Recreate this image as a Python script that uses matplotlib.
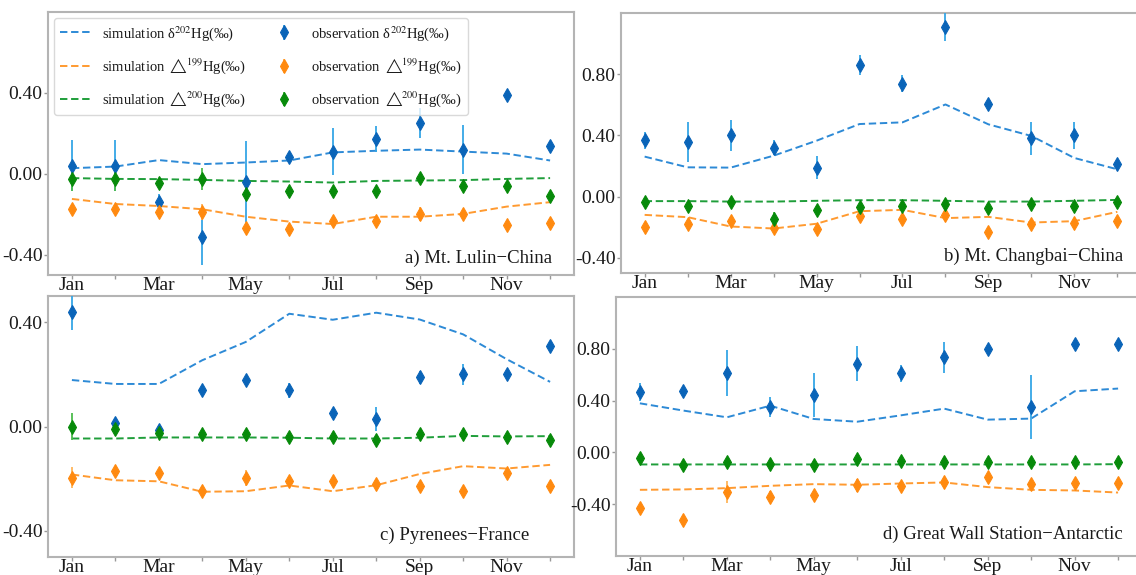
import matplotlib
matplotlib.use("Agg")
import matplotlib.pyplot as plt
import numpy as np

plt.rcParams['font.family'] = ['Liberation Serif', 'DejaVu Serif']
plt.rcParams['mathtext.fontset'] = 'stix'

months = ['Jan', 'Feb', 'Mar', 'Apr', 'May', 'Jun', 'Jul', 'Aug', 'Sep', 'Oct', 'Nov', 'Dec']
month_labels = ['Jan', '', 'Mar', '', 'May', '', 'Jul', '', 'Sep', '', 'Nov', '']

panel_titles = ['a) Mt. Lulin\u2212China', 'b) Mt. Changbai\u2212China',
                'c) Pyrenees\u2212France', 'd) Great Wall Station\u2212Antarctic']

# ---- a) Mt. Lulin ----
a_sim_d202 = [0.028, 0.036, 0.068, 0.048, 0.056, 0.066, 0.106, 0.114, 0.120, 0.110, 0.100, 0.066]
a_sim_D199 = [-0.124, -0.149, -0.159, -0.175, -0.212, -0.236, -0.248, -0.212, -0.212, -0.198, -0.162, -0.140]
a_sim_D200 = [-0.021, -0.025, -0.026, -0.030, -0.035, -0.038, -0.043, -0.035, -0.033, -0.031, -0.025, -0.021]
a_obs_d202 = [0.041, 0.041, -0.139, -0.310, -0.040, 0.083, 0.110, 0.172, 0.250, 0.120, 0.390, 0.140]
a_err_d202 = [0.125, 0.125, 0.040, 0.140, 0.200, 0.025, 0.115, 0.065, 0.075, 0.120, 0.010, 0.020]
a_obs_D199 = [-0.172, -0.172, -0.187, -0.190, -0.266, -0.274, -0.231, -0.231, -0.197, -0.198, -0.253, -0.241]
a_err_D199 = [0.015, 0.015, 0.015, 0.040, 0.030, 0.025, 0.020, 0.020, 0.035, 0.020, 0.010, 0.020]
a_obs_D200 = [-0.025, -0.025, -0.043, -0.025, -0.100, -0.084, -0.083, -0.083, -0.023, -0.061, -0.061, -0.109]
a_err_D200 = [0.060, 0.060, 0.010, 0.055, 0.030, 0.010, 0.010, 0.010, 0.020, 0.020, 0.010, 0.020]

# ---- b) Mt. Changbai ----
b_sim_d202 = [0.261, 0.191, 0.189, 0.267, 0.365, 0.474, 0.485, 0.602, 0.472, 0.396, 0.252, 0.178]
b_sim_D199 = [-0.120, -0.135, -0.196, -0.209, -0.178, -0.096, -0.087, -0.141, -0.133, -0.170, -0.161, -0.100]
b_sim_D200 = [-0.030, -0.030, -0.033, -0.033, -0.028, -0.024, -0.024, -0.028, -0.033, -0.033, -0.028, -0.022]
b_obs_d202 = [0.367, 0.359, 0.400, 0.320, 0.189, 0.861, 0.737, 1.109, 0.607, 0.380, 0.400, 0.210]
b_err_d202 = [0.057, 0.130, 0.100, 0.050, 0.076, 0.065, 0.055, 0.090, 0.020, 0.110, 0.090, 0.020]
b_obs_D199 = [-0.198, -0.180, -0.161, -0.209, -0.211, -0.130, -0.146, -0.124, -0.233, -0.180, -0.176, -0.163]
b_err_D199 = [0.020, 0.020, 0.020, 0.030, 0.020, 0.020, 0.020, 0.020, 0.020, 0.020, 0.020, 0.020]
b_obs_D200 = [-0.035, -0.065, -0.035, -0.148, -0.087, -0.067, -0.059, -0.046, -0.078, -0.048, -0.065, -0.033]
b_err_D200 = [0.020, 0.020, 0.020, 0.050, 0.020, 0.020, 0.020, 0.020, 0.020, 0.020, 0.020, 0.020]

# ---- c) Pyrenees ----
c_sim_d202 = [0.178, 0.163, 0.163, 0.254, 0.324, 0.432, 0.409, 0.436, 0.410, 0.353, 0.258, 0.171]
c_sim_D199 = [-0.184, -0.206, -0.210, -0.250, -0.248, -0.226, -0.248, -0.225, -0.182, -0.152, -0.161, -0.147]
c_sim_D200 = [-0.046, -0.046, -0.042, -0.042, -0.042, -0.043, -0.046, -0.046, -0.043, -0.036, -0.038, -0.037]
c_obs_d202 = [0.438, 0.013, -0.015, 0.138, 0.180, 0.138, 0.051, 0.029, 0.189, 0.200, 0.200, 0.309]
c_err_d202 = [0.070, 0.015, 0.020, 0.015, 0.015, 0.030, 0.015, 0.045, 0.025, 0.040, 0.010, 0.010]
c_obs_D199 = [-0.197, -0.169, -0.179, -0.249, -0.197, -0.207, -0.207, -0.220, -0.229, -0.249, -0.179, -0.229]
c_err_D199 = [0.040, 0.015, 0.015, 0.015, 0.030, 0.015, 0.015, 0.015, 0.015, 0.010, 0.015, 0.015]
c_obs_D200 = [0.000, -0.010, -0.025, -0.028, -0.028, -0.042, -0.042, -0.051, -0.028, -0.028, -0.039, -0.051]
c_err_D200 = [0.050, 0.010, 0.010, 0.010, 0.010, 0.010, 0.010, 0.010, 0.010, 0.010, 0.010, 0.010]

# ---- d) Great Wall Station ----
d_sim_d202 = [0.379, 0.323, 0.271, 0.361, 0.258, 0.237, 0.286, 0.338, 0.253, 0.261, 0.472, 0.493]
d_sim_D199 = [-0.289, -0.286, -0.276, -0.258, -0.245, -0.250, -0.240, -0.232, -0.268, -0.289, -0.294, -0.310]
d_sim_D200 = [-0.093, -0.093, -0.093, -0.093, -0.093, -0.093, -0.093, -0.093, -0.093, -0.093, -0.093, -0.091]
d_obs_d202 = [0.465, 0.472, 0.612, 0.351, 0.441, 0.684, 0.612, 0.733, 0.795, 0.351, 0.834, 0.834]
d_err_d202 = [0.070, 0.020, 0.180, 0.080, 0.170, 0.135, 0.065, 0.120, 0.020, 0.250, 0.020, 0.020]
d_obs_D199 = [-0.431, -0.524, -0.307, -0.341, -0.330, -0.253, -0.263, -0.230, -0.188, -0.243, -0.235, -0.235]
d_err_D199 = [0.020, 0.020, 0.085, 0.040, 0.030, 0.050, 0.030, 0.030, 0.020, 0.020, 0.020, 0.020]
d_obs_D200 = [-0.046, -0.098, -0.072, -0.088, -0.098, -0.052, -0.065, -0.072, -0.077, -0.072, -0.072, -0.075]
d_err_D200 = [0.020, 0.020, 0.020, 0.020, 0.020, 0.020, 0.020, 0.020, 0.020, 0.020, 0.020, 0.020]

ylims = [(-0.5, 0.8), (-0.5, 1.2), (-0.5, 0.5), (-0.8, 1.2)]
yticks_list = [[-0.4, 0.0, 0.4], [-0.4, 0.0, 0.4, 0.8], [-0.4, 0.0, 0.4], [-0.4, 0.0, 0.4, 0.8]]
ytick_labels_list = [['-0.40', '0.00', '0.40'], ['-0.40', '0.00', '0.40', '0.80'],
                     ['-0.40', '0.00', '0.40'], ['-0.40', '0.00', '0.40', '0.80']]

sim_labels = ['simulation \u03b4$^{202}$Hg(\u2030)',
              r'simulation $\triangle^{\!\!199}$Hg(‰)',
              r'simulation $\triangle^{\!\!200}$Hg(‰)']
obs_labels = ['observation \u03b4$^{202}$Hg(\u2030)',
              r'observation $\triangle^{\!\!199}$Hg(‰)',
              r'observation $\triangle^{\!\!200}$Hg(‰)']

sim_colors = ['#2d8ad6', '#ff9a30', '#1f9e3a']
obs_colors = ['#0a64b8', '#ff8a10', '#078a0a']
err_colors = ['#35a6e6', '#ffb55a', '#4cbc4c']

panels = [
    (a_sim_d202, a_sim_D199, a_sim_D200, a_obs_d202, a_err_d202, a_obs_D199, a_err_D199, a_obs_D200, a_err_D200),
    (b_sim_d202, b_sim_D199, b_sim_D200, b_obs_d202, b_err_d202, b_obs_D199, b_err_D199, b_obs_D200, b_err_D200),
    (c_sim_d202, c_sim_D199, c_sim_D200, c_obs_d202, c_err_d202, c_obs_D199, c_err_D199, c_obs_D200, c_err_D200),
    (d_sim_d202, d_sim_D199, d_sim_D200, d_obs_d202, d_err_d202, d_obs_D199, d_err_D199, d_obs_D200, d_err_D200),
]

W, H = 1136, 575
fig = plt.figure(figsize=(W / 100, H / 100), dpi=100)
fig.patch.set_facecolor('white')

# axes boxes in pixels: left, top, right, bottom
boxes = [(48, 12, 574, 275), (621, 13, 1141, 273), (48, 296, 574, 557), (616, 297, 1142, 556)]
label_pos = [(0.958, 0.03), (0.965, 0.03), (0.914, 0.05), (0.964, 0.05)]

x = np.arange(len(months))
spine_col = '#b4b4b4'

for i, (box, data) in enumerate(zip(boxes, panels)):
    l, t, r, b = box
    ax = fig.add_axes([l / W, 1 - b / H, (r - l) / W, (b - t) / H])
    sims = data[0:3]
    obs = [data[3], data[5], data[7]]
    errs = [data[4], data[6], data[8]]
    sim_handles = []
    obs_handles = []
    for k in range(3):
        ln, = ax.plot(x, sims[k], linestyle='--', color=sim_colors[k], lw=1.4,
                      dashes=(3.8, 1.9), label=sim_labels[k], zorder=2)
        sim_handles.append(ln)
    for k in range(3):
        eb = ax.errorbar(x, obs[k], yerr=errs[k], fmt='d', color=obs_colors[k],
                         ecolor=err_colors[k], elinewidth=1.3, capsize=0,
                         markersize=7, markeredgewidth=0.8, label=obs_labels[k], zorder=3)
        obs_handles.append(eb)
    ax.set_xlim(-0.55, 11.55)
    ax.set_ylim(*ylims[i])
    ax.set_xticks(x)
    ax.set_xticklabels(month_labels)
    ax.set_yticks(yticks_list[i])
    ax.set_yticklabels(ytick_labels_list[i])
    ax.tick_params(axis='both', direction='out', length=3, width=1.0, color='#999999',
                   labelsize=14, labelcolor='#1a1a1a', pad=1.0)
    ax.tick_params(axis='x', pad=-1.5)
    for s in ax.spines.values():
        s.set_color(spine_col)
        s.set_linewidth(1.5)
    ax.text(label_pos[i][0], label_pos[i][1], panel_titles[i], transform=ax.transAxes,
            ha='right', va='bottom', fontsize=13.5, color='#1a1a1a')
    if i == 0:
        leg = ax.legend(sim_handles + obs_handles, sim_labels + obs_labels, ncol=2,
                        loc='upper left', fontsize=10.5, frameon=True, fancybox=True,
                        borderpad=0.4, labelspacing=0.95, columnspacing=1.6,
                        handlelength=2.1, handletextpad=0.8, bbox_to_anchor=(0.0, 1.0),
                        borderaxespad=0.4)
        leg.get_frame().set_edgecolor('#d0d0d0')
        for tx in leg.get_texts():
            tx.set_color('#1a1a1a')

fig.savefig('out.png', dpi=100, facecolor='white')
